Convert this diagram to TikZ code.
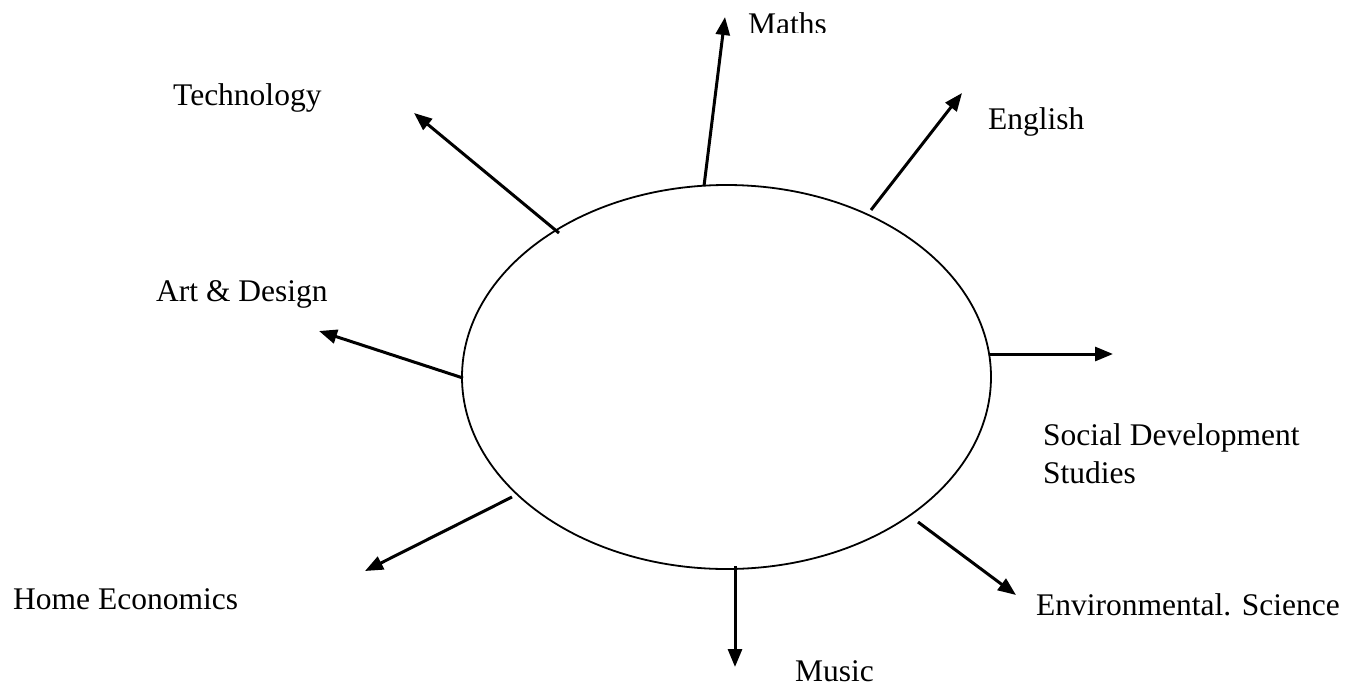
\documentclass[tikz,border=0pt]{standalone}
\usepackage{fontspec}
\setmainfont{Liberation Serif}
\usetikzlibrary{arrows.meta,shapes.geometric}
\begin{document}
\begin{tikzpicture}[x=1pt,y=-1pt,
  lbl/.style={anchor=base west,inner sep=0pt,font=\fontsize{31.5}{38}\selectfont},
  arr/.style={line width=3pt,-{Triangle[length=18pt,width=14pt]}},
  hub/.style={draw,ellipse,line width=1.8pt,minimum width=529pt,minimum height=384pt,inner sep=0pt}]
\useasboundingbox (0,0) rectangle (1355,689);
\node[hub] (c) at (726.5,377) {};
% tails and tips
\coordinate (t1) at (704,186);   \coordinate (h1) at (725,17);
\coordinate (t2) at (871,210);   \coordinate (h2) at (962,93);
\coordinate (t3) at (559,233);   \coordinate (h3) at (414,113);
\coordinate (t4) at (463,378);   \coordinate (h4) at (319,331);
\coordinate (t5) at (990,354);   \coordinate (h5) at (1113,354);
\coordinate (t6) at (918,522);   \coordinate (h6) at (1016,595);
\coordinate (t7) at (735,566);   \coordinate (h7) at (735,667);
\coordinate (t8) at (512,497);   \coordinate (h8) at (365,571);
\draw[arr] (t1) -- (h1);
\draw[arr] (t2) -- (h2);
\draw[arr] (t3) -- (h3);
\draw[arr] (t4) -- (h4);
\draw[arr] (t5) -- (h5);
\draw[arr] (t6) -- (h6);
\draw[arr] (t7) -- (h7);
\draw[arr] (t8) -- (h8);
% labels
\begin{scope}
\clip (700,0) rectangle (900,32);
\node[lbl] (maths) at (748,34) {Maths};
\end{scope}
\node[lbl] (eng) at (988,129) {English};
\node[lbl] (tech) at (173,105) {Technology};
\node[lbl] (art) at (156,301) {Art \& Design};
\node[lbl] (soc) at (1043,445) {Social Development};
\node[lbl] (stud) at (1043,483) {Studies};
\node[lbl] (env) at (1036,615) {Environmental. Science};
\node[lbl] (mus) at (795,681) {Music};
\node[lbl] (home) at (13,609) {Home Economics};
\end{tikzpicture}
\end{document}
